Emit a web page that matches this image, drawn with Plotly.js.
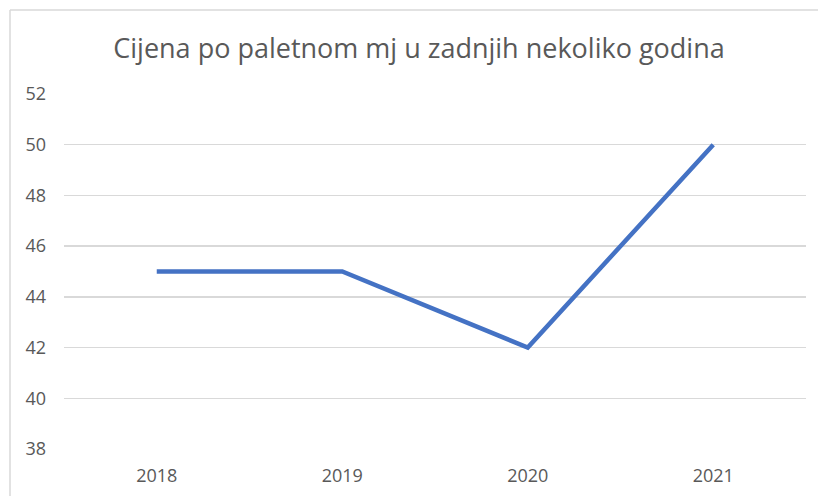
<!DOCTYPE html>
<html>
<head>
<meta charset="utf-8">
<script src="https://cdn.plot.ly/plotly-3.0.1.min.js"></script>
<style>html,body{margin:0;padding:0;background:#fff;}#chart{width:818px;height:496px;}</style>
</head>
<body>
<div id="chart"></div>
<script>
const years = ['2018', '2019', '2020', '2021'];
const prices = [45, 45, 42, 50];
const yTicks = [38, 40, 42, 44, 46, 48, 50, 52];
const chartTitle = 'Cijena po paletnom mj u zadnjih nekoliko godina';

const font = 'Open Sans, sans-serif';
const L = 64, R = 12, T = 94, B = 47, W = 818, H = 496;
const pw = W - L - R, ph = H - T - B;
const px = v => (v - L) / pw;
const py = v => (H - B - v) / ph;

const trace = {
  type: 'scatter', mode: 'lines', x: years, y: prices,
  line: {color: '#4472C4', width: 4.5}, hoverinfo: 'x+y'
};
const layout = {
  width: W, height: H,
  margin: {l: L, r: R, t: T, b: B},
  paper_bgcolor: '#fff', plot_bgcolor: '#fff',
  showlegend: false,
  title: {text: chartTitle, font: {family: font, size: 27, color: '#595959'},
          x: px(419), xref: 'paper', xanchor: 'center', y: 1 - 49 / H, yanchor: 'middle'},
  xaxis: {type: 'category', range: [-0.5, 3.5], showgrid: false, zeroline: false,
          showline: false, ticks: '', tickfont: {family: font, size: 18, color: '#595959'},
          ticklabelstandoff: 14},
  yaxis: {range: [38, 52], tickvals: yTicks, ticktext: yTicks.map(String),
          showgrid: true, gridcolor: '#d9d9d9', gridwidth: 1.5, zeroline: false, showline: false,
          ticks: '', tickfont: {family: font, size: 18, color: '#595959'}, ticklabelstandoff: 17},
  shapes: [
    {type: 'line', xref: 'paper', yref: 'paper', x0: px(10), x1: px(830), y0: py(10), y1: py(10),
     line: {color: '#d9d9d9', width: 1.5}},
    {type: 'line', xref: 'paper', yref: 'paper', x0: px(10), x1: px(10), y0: py(10), y1: py(510),
     line: {color: '#d9d9d9', width: 1.5}}
  ]
};
Plotly.newPlot('chart', [trace], layout, {displayModeBar: false, staticPlot: true});
</script>
</body>
</html>
